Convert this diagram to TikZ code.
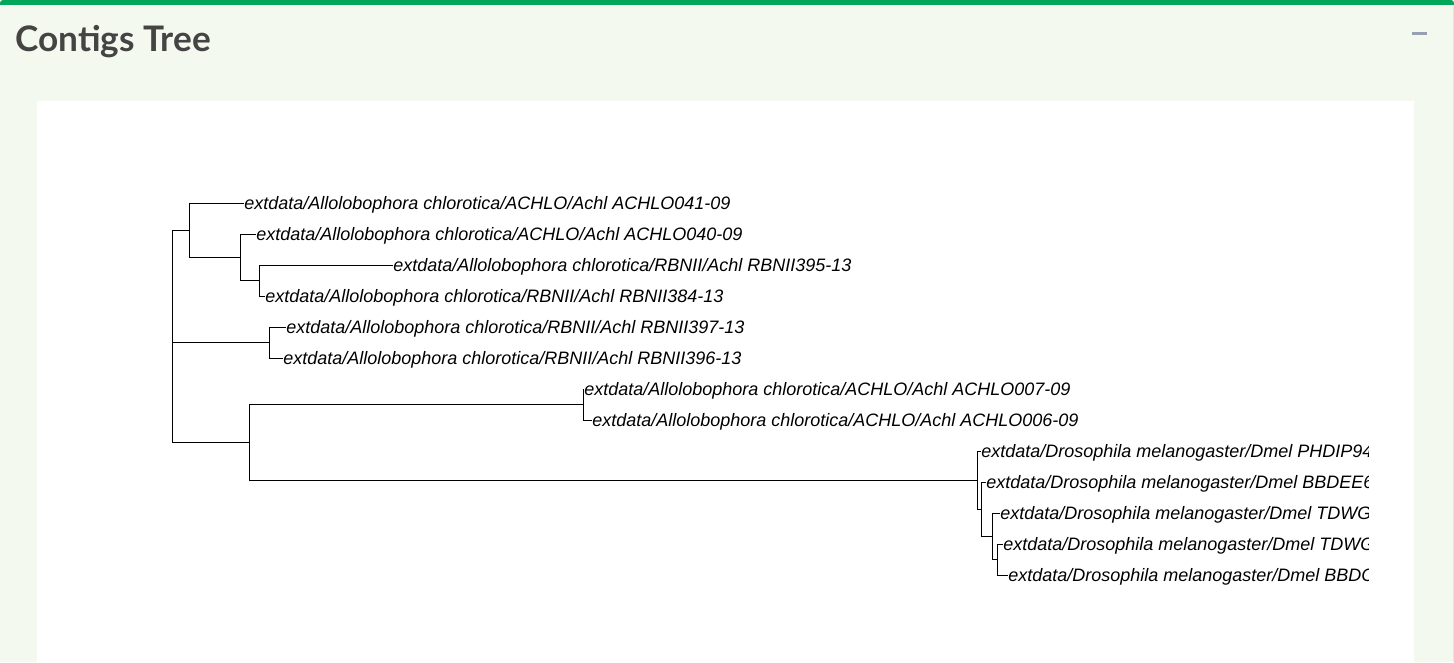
\documentclass[tikz,border=0pt]{standalone}
\usepackage{fontspec}
\newfontfamily\treefont{Liberation Sans}
\newfontfamily\titlefont{Lato}
\definecolor{boxgreen}{HTML}{00A65A}
\definecolor{panelbg}{HTML}{F3F9EF}
\definecolor{boxedge}{HTML}{E2E8DF}
\definecolor{titlegrey}{HTML}{444444}
\definecolor{iconblue}{HTML}{97A0B3}
\tikzset{branch/.style={black,line width=0.75pt},
  tiplabel/.style={anchor=west,inner sep=0pt,text height=12pt,text depth=2pt,font=\treefont\itshape\fontsize{13.5pt}{16pt}\selectfont},
  titletext/.style={anchor=base west,inner sep=0pt,text=titlegrey,font=\titlefont\bfseries\fontsize{26.4pt}{30pt}\selectfont}}

\begin{document}
\begin{tikzpicture}[x=0.75pt,y=-0.75pt]
  \useasboundingbox (0,0) rectangle (1454,662);
  \fill[boxgreen,rounded corners=2.25pt] (0,0) rectangle (1454,12);
  \fill[panelbg] (0,5) rectangle (1454,662);
  \draw[boxedge,line width=0.75pt] (1453.5,5) -- (1453.5,662);
  \fill[white] (37,101) rectangle (1414,662);
  \node[titletext] (title) at (15,51) {Contigs Tree};
  \draw[iconblue,line width=2.25pt] (1412,33) -- (1427,33);
  \begin{scope}
   \clip (37,101) rectangle (1368,662);
   % inner nodes of the tree
   \coordinate (R) at (172,336.2);
   \coordinate (A) at (189,230.1);
   \coordinate (B) at (240,257.2);
   \coordinate (C) at (259,280.5);
   \coordinate (D) at (269,342.5);
   \coordinate (E) at (249,442.3);
   \coordinate (F) at (583,404.5);
   \coordinate (G) at (977,480.1);
   \coordinate (H) at (981,509.1);
   \coordinate (I) at (992,536.2);
   \coordinate (J) at (997,559.5);
   % tip labels
   \node[tiplabel] (t1)  at (244,203)  {extdata/Allolobophora chlorotica/ACHLO/Achl ACHLO041-09};
   \node[tiplabel] (t2)  at (256,234)  {extdata/Allolobophora chlorotica/ACHLO/Achl ACHLO040-09};
   \node[tiplabel] (t3)  at (393,265)  {extdata/Allolobophora chlorotica/RBNII/Achl RBNII395-13};
   \node[tiplabel] (t4)  at (265,296)  {extdata/Allolobophora chlorotica/RBNII/Achl RBNII384-13};
   \node[tiplabel] (t5)  at (286,327)  {extdata/Allolobophora chlorotica/RBNII/Achl RBNII397-13};
   \node[tiplabel] (t6)  at (283,358)  {extdata/Allolobophora chlorotica/RBNII/Achl RBNII396-13};
   \node[tiplabel] (t7)  at (584,389)  {extdata/Allolobophora chlorotica/ACHLO/Achl ACHLO007-09};
   \node[tiplabel] (t8)  at (592,420)  {extdata/Allolobophora chlorotica/ACHLO/Achl ACHLO006-09};
   \node[tiplabel] (t9)  at (981,451)  {extdata/Drosophila melanogaster/Dmel PHDIP945-11};
   \node[tiplabel] (t10) at (986,482)  {extdata/Drosophila melanogaster/Dmel BBDEE662-10};
   \node[tiplabel] (t11) at (1000,513) {extdata/Drosophila melanogaster/Dmel TDWGB567-10};
   \node[tiplabel] (t12) at (1003,544) {extdata/Drosophila melanogaster/Dmel TDWGB566-10};
   \node[tiplabel] (t13) at (1008,575) {extdata/Drosophila melanogaster/Dmel BBDCQ178-10};
   % branches
   \draw[branch] (R) |- (A);
   \draw[branch] (R) |- (D);
   \draw[branch] (R) |- (E);
   \draw[branch] (A) |- (t1);
   \draw[branch] (A) |- (B);
   \draw[branch] (B) |- (t2);
   \draw[branch] (B) |- (C);
   \draw[branch] (C) |- (t3);
   \draw[branch] (C) |- (t4);
   \draw[branch] (D) |- (t5);
   \draw[branch] (D) |- (t6);
   \draw[branch] (E) |- (F);
   \draw[branch] (E) |- (G);
   \draw[branch] (F) |- (t7);
   \draw[branch] (F) |- (t8);
   \draw[branch] (G) |- (t9);
   \draw[branch] (G) |- (H);
   \draw[branch] (H) |- (t10);
   \draw[branch] (H) |- (I);
   \draw[branch] (I) |- (t11);
   \draw[branch] (I) |- (J);
   \draw[branch] (J) |- (t12);
   \draw[branch] (J) |- (t13);
  \end{scope}
\end{tikzpicture}
\end{document}
